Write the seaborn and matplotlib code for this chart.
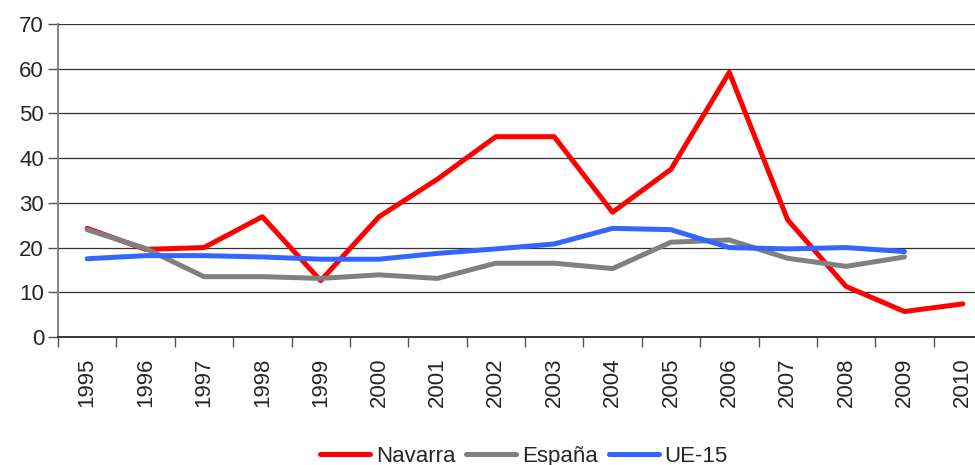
import numpy as np
import pandas as pd
import matplotlib
matplotlib.use("Agg")
import matplotlib.pyplot as plt
import seaborn as sns

# data
years = list(range(1995, 2011))
navarra = [24.3, 19.6, 20.0, 26.9, 12.6, 26.9, 35.3, 44.8, 44.8, 27.9, 37.5, 59.2, 26.2, 11.3, 5.7, 7.4]
espana = [24.0, 19.8, 13.5, 13.5, 13.1, 13.9, 13.1, 16.5, 16.5, 15.3, 21.2, 21.7, 17.6, 15.8, 17.9]
ue15 = [17.5, 18.2, 18.2, 17.9, 17.4, 17.4, 18.7, 19.7, 20.8, 24.3, 24.0, 20.0, 19.7, 20.0, 19.1]
series_names = ["Navarra", "España", "UE-15"]
colors = ["#FF0000", "#808080", "#3366FF"]

df = pd.concat([
    pd.DataFrame({"year": years[:len(navarra)], "value": navarra, "serie": "Navarra"}),
    pd.DataFrame({"year": years[:len(espana)], "value": espana, "serie": "España"}),
    pd.DataFrame({"year": years[:len(ue15)], "value": ue15, "serie": "UE-15"}),
])

sns.set_theme(style="white")
plt.rcParams["font.family"] = ["Liberation Sans", "DejaVu Sans"]

fig = plt.figure(figsize=(9.75, 4.65), dpi=100)
ax = fig.add_axes([58 / 975, 1 - 337 / 465, 934 / 975, 313 / 465])

sns.lineplot(data=df, x="year", y="value", hue="serie", hue_order=series_names,
             palette=colors, linewidth=3.6, ax=ax, legend=True)

ax.set_xlim(1994.5, 2010.5)
ax.set_ylim(0, 70)
ax.set_yticks(np.arange(0, 71, 10))
ax.yaxis.grid(True, color="#333333", linewidth=0.9)
ax.set_axisbelow(True)

ax.set_xticks(np.arange(1994.5, 2011, 1))
ax.set_xticklabels([])
ax.set_xticks(years, minor=True)
ax.set_xticklabels([str(y) for y in years], minor=True, rotation=90, fontsize=16)
ax.tick_params(axis="x", which="major", direction="out", length=7, width=1, color="#555555", bottom=True)
ax.tick_params(axis="x", which="minor", length=0, pad=15)
ax.tick_params(axis="y", direction="out", length=7, width=1, color="#555555", left=True, labelsize=16, pad=3)

for s in ["top", "right"]:
    ax.spines[s].set_visible(False)
ax.spines["left"].set_color("#777777")
ax.spines["bottom"].set_color("#222222")
ax.set_xlabel("")
ax.set_ylabel("")

handles, labels = ax.get_legend_handles_labels()
ax.get_legend().remove()
fig.legend(handles, labels, loc="center", bbox_to_anchor=(524 / 975, 9 / 465),
           ncol=3, frameon=False, fontsize=16, handlelength=2.25,
           handletextpad=0.25, columnspacing=0.5)

fig.savefig("out.png", dpi=100)
